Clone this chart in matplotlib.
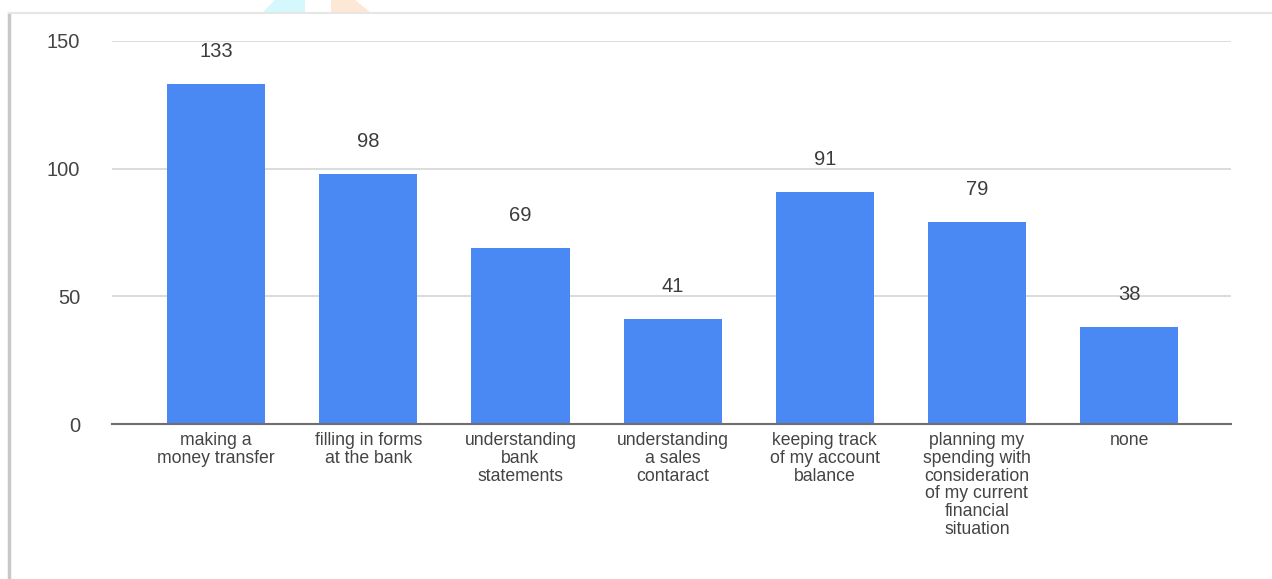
import matplotlib.pyplot as plt
from matplotlib.lines import Line2D
from matplotlib.patches import Polygon

categories = [
    "making a\nmoney transfer",
    "filling in forms\nat the bank",
    "understanding\nbank\nstatements",
    "understanding\na sales\ncontaract",
    "keeping track\nof my account\nbalance",
    "planning my\nspending with\nconsideration\nof my current\nfinancial\nsituation",
    "none",
]
counts = [133, 98, 69, 41, 91, 79, 38]
yticks = [0, 50, 100, 150]

plt.rcParams["font.family"] = ["Liberation Sans", "DejaVu Sans"]

fig = plt.figure(figsize=(12.72, 5.79), dpi=100)
ax = fig.add_axes([112 / 1272, 1 - 424 / 579, (1231 - 112) / 1272, 383 / 579])

x = range(len(categories))
ax.bar(x, counts, width=0.645, color="#4a89f3", zorder=3)
for i, v in enumerate(counts):
    ax.annotate(str(v), (i, v), xytext=(0, 23.5), textcoords="offset points",
                ha="center", va="center", fontsize=14.5, color="#3c3c3c")

ax.set_xlim(-0.685, 6.67)
ax.set_ylim(0, 150)
ax.set_yticks(yticks)
ax.set_yticklabels([str(t) for t in yticks], fontsize=14.5, color="#444444")
ax.set_xticks(list(x))
ax.set_xticklabels(categories, fontsize=12.7, color="#444444", linespacing=1.05)
ax.tick_params(axis="y", length=0, pad=23)
ax.tick_params(axis="x", length=0, pad=6)
ax.grid(axis="y", color="#d6d6d6", linewidth=1.2, zorder=0)
for s in ["top", "right", "left"]:
    ax.spines[s].set_visible(False)
ax.spines["bottom"].set_color("#6e6e6e")
ax.spines["bottom"].set_linewidth(1.5)
ax.spines["bottom"].set_zorder(4)

# frame of the screenshot
fig.add_artist(Line2D([9 / 1272, 9 / 1272], [0, 1 - 14 / 579], color="#c8c8c8", linewidth=2.5))
fig.add_artist(Line2D([9 / 1272, 1], [1 - 13 / 579, 1 - 13 / 579], color="#e6e6e6", linewidth=1.5))

# coloured marks at the top edge
fig.add_artist(Polygon([(263 / 1272, 1 - 12 / 579), (275 / 1272, 1), (305 / 1272, 1), (305 / 1272, 1 - 12 / 579)],
                       closed=True, facecolor="#d4f8fb", edgecolor="none"))
fig.add_artist(Polygon([(331 / 1272, 1 - 12 / 579), (331 / 1272, 1), (355 / 1272, 1), (370 / 1272, 1 - 12 / 579)],
                       closed=True, facecolor="#fde8d6", edgecolor="none"))

fig.savefig("out.png", dpi=100, facecolor="white")
